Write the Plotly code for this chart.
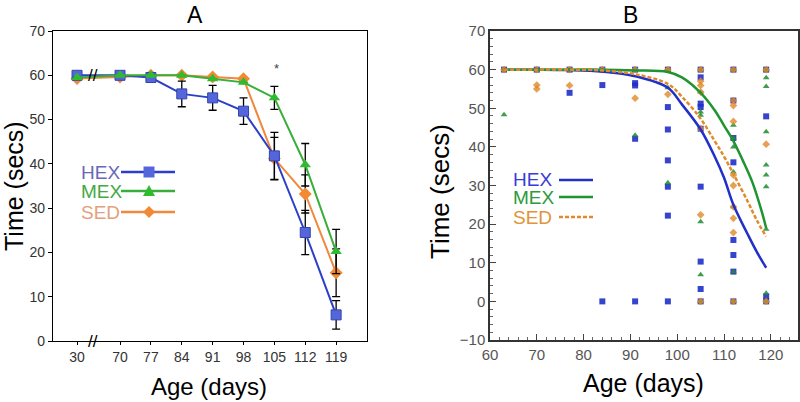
import plotly.graph_objects as go

# ---------------- Panel A data ----------------
ages_A = [30, 70, 77, 84, 91, 98, 105, 112, 119]
age_labels_A = ["30", "70", "77", "84", "91", "98", "105", "112", "119"]
hex_A = [60, 60, 59.5, 55.8, 54.9, 51.9, 41.8, 24.5, 5.9]
hex_A_err = [0, 0, 0, 2.9, 2.8, 3.0, 5.3, 5.0, 3.2]
mex_A = [59.5, 60, 60, 60, 59.2, 58.4, 54.9, 39.8, 20.2]
mex_A_err = [0, 0, 0, 0, 0, 0, 2.6, 4.8, 5.0]
sed_A = [59.3, 59.6, 60, 60, 59.6, 59.2, 41.2, 33.2, 15.4]
sed_A_err = [0, 0, 0, 0, 0, 0, 4.8, 4.3, 5.4]
yticks_A = [0, 10, 20, 30, 40, 50, 60, 70]

# ---------------- Panel B data ----------------
hex_B_days = [63, 70, 77, 77, 84, 84, 84,
              91, 91, 91, 91, 91,
              98, 98, 98, 98, 98, 98, 98,
              105, 105, 105, 105, 105, 105, 105, 105, 105,
              112, 112, 112, 112, 112, 112, 112, 112,
              119, 119, 119, 119]
hex_B_vals = [60, 60, 60, 54, 60, 56, 0,
              60, 56.5, 55.9, 42.1, 0,
              60, 50.3, 44.5, 36.5, 29.7, 22.2, 0,
              60, 58, 51.2, 50.3, 44.7, 29.7, 10.3, 3.2, 0,
              60, 52, 42.3, 36, 15.9, 12, 7.7, 0,
              60, 47.9, 1.3, 0]
mex_B_days = [63, 63, 70, 77, 84, 91, 91, 98, 98, 98,
              105, 105, 105, 105, 105, 105, 105,
              112, 112, 112, 112, 112, 112, 112, 112,
              119, 119, 119, 119, 119, 119, 119, 119, 119, 119]
mex_B_vals = [60, 48.3, 60, 60, 60, 60, 43, 60, 55.3, 30.7,
              60, 54.2, 49, 48.2, 20.6, 6.9, 0,
              60, 45.6, 42.3, 40, 33.5, 24.5, 7.7, 0,
              60, 57.9, 55.6, 43.9, 35.3, 32.7, 29.7, 18.7, 2.1, 0]
sed_B_days = [63, 70, 70, 70, 77, 77, 84, 91, 91, 98, 98,
              105, 105, 105, 105, 105, 105, 105,
              112, 112, 112, 112, 112, 112, 112, 112, 112, 112,
              119, 119, 119]
sed_B_vals = [60, 60, 56, 55, 60, 55.9, 60, 60, 52.6, 60, 53.6,
              60, 57, 55.9, 54.2, 44.7, 22.4, 0,
              60, 52, 50.7, 46.6, 32.7, 30, 24.5, 21.5, 17.8, 0,
              60, 40.7, 0]

curve_hex_days = [63, 70, 77, 84, 91, 98, 101, 105, 108, 110, 112, 115, 117, 119]
curve_hex_vals = [60, 60, 59.9, 59.5, 58.3, 55.3, 51, 44.5, 37.5, 32, 25, 17.5, 12.8, 8.7]
curve_mex_days = [63, 70, 77, 84, 91, 98, 101, 105, 108, 110, 112, 114, 116, 118, 119]
curve_mex_vals = [60, 60, 60, 60, 59.8, 59.4, 58, 54, 49.5, 45.5, 41.5, 36.5, 31, 23.5, 19]
curve_sed_days = [63, 70, 77, 84, 91, 98, 101, 105, 108, 110, 112, 115, 117, 119]
curve_sed_vals = [60, 60, 60, 59.8, 58.8, 56.3, 53, 47.3, 41.5, 37.5, 33, 26, 21, 16.8]

# ---------------- style ----------------
FONT = "Liberation Sans, Arial, sans-serif"
W, H = 800, 402
BREAK_SHIFT = 30.25          # axis break compresses 30 -> 70 gap


def posA(a):
    return a + BREAK_SHIFT if a < 70 else a


def px(x):
    return x / W


def py(y):
    return 1 - y / H


xA = [posA(a) for a in ages_A]

fig = go.Figure()


def err(arr):
    return dict(type="data", array=arr, visible=True, color="black", thickness=1.3, width=4)


fig.add_trace(go.Scatter(x=xA, y=sed_A, mode="lines+markers", error_y=err(sed_A_err),
                         line=dict(color="#f0883e", width=2),
                         marker=dict(symbol="diamond", size=10, color="#f28a35"),
                         xaxis="x", yaxis="y", showlegend=False))
fig.add_trace(go.Scatter(x=xA, y=hex_A, mode="lines+markers", error_y=err(hex_A_err),
                         line=dict(color="#2b3fc9", width=2),
                         marker=dict(symbol="square", size=10, color="#5566dd",
                                     line=dict(color="#3344aa", width=1)),
                         xaxis="x", yaxis="y", showlegend=False))
fig.add_trace(go.Scatter(x=xA, y=mex_A, mode="lines+markers", error_y=err(mex_A_err),
                         line=dict(color="#3aae3a", width=2),
                         marker=dict(symbol="triangle-up", size=10, color="#2fbb2f"),
                         xaxis="x", yaxis="y", showlegend=False))

# Panel B scatter
fig.add_trace(go.Scatter(x=hex_B_days, y=hex_B_vals, mode="markers",
                         marker=dict(symbol="square", size=6, color="#1f2fc8", opacity=0.9),
                         xaxis="x2", yaxis="y2", showlegend=False))
fig.add_trace(go.Scatter(x=mex_B_days, y=mex_B_vals, mode="markers",
                         marker=dict(symbol="triangle-up", size=6, color="#1e8c2e", opacity=0.85),
                         xaxis="x2", yaxis="y2", showlegend=False))
fig.add_trace(go.Scatter(x=sed_B_days, y=sed_B_vals, mode="markers",
                         marker=dict(symbol="diamond", size=6, color="#e08a2a", opacity=0.8),
                         xaxis="x2", yaxis="y2", showlegend=False))
# Panel B curves
fig.add_trace(go.Scatter(x=curve_hex_days, y=curve_hex_vals, mode="lines",
                         line=dict(color="#2030c8", width=2.5, shape="spline"),
                         xaxis="x2", yaxis="y2", showlegend=False))
fig.add_trace(go.Scatter(x=curve_mex_days, y=curve_mex_vals, mode="lines",
                         line=dict(color="#1f9430", width=2.5, shape="spline"),
                         xaxis="x2", yaxis="y2", showlegend=False))
fig.add_trace(go.Scatter(x=curve_sed_days, y=curve_sed_vals, mode="lines",
                         line=dict(color="#e08a2a", width=2.5, shape="spline", dash="4px,2px"),
                         xaxis="x2", yaxis="y2", showlegend=False))

shapes = []
annotations = []

# Panel A legend
legA = [("HEX", "#6868b8", "#2b3fc9", "square", "#5566dd", 172),
        ("MEX", "#44a844", "#3aae3a", "triangle", "#2fbb2f", 191),
        ("SED", "#e4a07c", "#f0883e", "diamond", "#f28a35", 212)]
for name, tcol, lcol, sym, mcol, yy in legA:
    annotations.append(dict(x=px(79), y=py(yy), xref="paper", yref="paper", text=name,
                            showarrow=False, xanchor="left", yanchor="middle",
                            font=dict(family=FONT, size=19, color=tcol)))
    shapes.append(dict(type="line", xref="paper", yref="paper", x0=px(121), x1=px(175),
                       y0=py(yy), y1=py(yy), line=dict(color=lcol, width=2.5)))
    cx, s = 149, 5.5
    if sym == "square":
        shapes.append(dict(type="rect", xref="paper", yref="paper", x0=px(cx - s), x1=px(cx + s),
                           y0=py(yy - s), y1=py(yy + s), fillcolor=mcol, line=dict(color=mcol, width=0)))
    elif sym == "triangle":
        path = f"M {px(cx)} {py(yy - 6)} L {px(cx + 6)} {py(yy + 5)} L {px(cx - 6)} {py(yy + 5)} Z"
        shapes.append(dict(type="path", xref="paper", yref="paper", path=path,
                           fillcolor=mcol, line=dict(color=mcol, width=0)))
    else:
        path = (f"M {px(cx)} {py(yy - 6)} L {px(cx + 6)} {py(yy)} L {px(cx)} {py(yy + 6)} "
                f"L {px(cx - 6)} {py(yy)} Z")
        shapes.append(dict(type="path", xref="paper", yref="paper", path=path,
                           fillcolor=mcol, line=dict(color=mcol, width=0)))

# Panel B legend
legB = [("HEX", "#3b3bd6", "#2030c8", "solid", 180),
        ("MEX", "#2a9a3a", "#1f9430", "solid", 197),
        ("SED", "#e0943c", "#e08a2a", "dash", 217)]
for name, tcol, lcol, dash, yy in legB:
    annotations.append(dict(x=px(511), y=py(yy), xref="paper", yref="paper", text=name,
                            showarrow=False, xanchor="left", yanchor="middle",
                            font=dict(family=FONT, size=19, color=tcol)))
    shapes.append(dict(type="line", xref="paper", yref="paper", x0=px(559), x1=px(593),
                       y0=py(yy), y1=py(yy),
                       line=dict(color=lcol, width=2.5, dash="4px,2px" if dash == "dash" else "solid")))


def label(x, y, text, size, angle=0):
    return dict(x=px(x), y=py(y), xref="paper", yref="paper", text=text, showarrow=False,
                xanchor="center", yanchor="middle", textangle=angle,
                font=dict(family=FONT, size=size, color="black"))


# Titles and axis titles
annotations += [
    label(195, 15, "A", 23),
    label(630, 15, "B", 23),
    label(14, 186, "Time (secs)", 25, -90),
    label(440, 192, "Time (secs)", 26, -90),
    label(209, 386, "Age (days)", 24),
    label(643, 383, "Age (days)", 25),
    # significance star
    dict(x=105.5, y=61.5, xref="x", yref="y", text="*", showarrow=False,
         xanchor="center", yanchor="middle", font=dict(family=FONT, size=13, color="#444")),
    # axis break marks
    dict(x=posA(30) + 0.36 * (70 - posA(30)), y=60, xref="x", yref="y", text="//", showarrow=False,
         xanchor="center", yanchor="middle", font=dict(family=FONT, size=17, color="black")),
    dict(x=posA(30) + 0.36 * (70 - posA(30)), y=0, xref="x", yref="y", text="//", showarrow=False,
         xanchor="center", yanchor="middle", font=dict(family=FONT, size=17, color="black")),
]

fig.update_layout(
    width=W, height=H,
    margin=dict(l=0, r=0, t=0, b=0, autoexpand=False),
    paper_bgcolor="white", plot_bgcolor="white",
    font=dict(family=FONT),
    shapes=shapes, annotations=annotations,
    xaxis=dict(domain=[px(53), px(367)], range=[54.8, 126.0],
               tickvals=xA, ticktext=age_labels_A, automargin=False,
               showgrid=False, zeroline=False, showline=True, linecolor="black", linewidth=1.3,
               mirror=True, ticks="outside", ticklen=3, tickcolor="black",
               tickfont=dict(family=FONT, size=14, color="#333")),
    yaxis=dict(domain=[py(341), py(31)], range=[0, 70], tickvals=yticks_A, automargin=False,
               showgrid=False, zeroline=False, showline=True, linecolor="black", linewidth=1.3,
               mirror=True, ticks="outside", ticklen=4, tickcolor="black",
               tickfont=dict(family=FONT, size=14, color="#333")),
    xaxis2=dict(domain=[px(490), px(798)], range=[60, 125.8], dtick=10, tick0=60,
                automargin=False,
                showgrid=False, zeroline=False, showline=True, linecolor="#333", linewidth=1.5,
                mirror=True, ticks="inside", ticklen=6, tickcolor="#444",
                minor=dict(ticks="inside", dtick=2, ticklen=3, tickcolor="#666"),
                tickfont=dict(family=FONT, size=15, color="#555"), anchor="y2"),
    yaxis2=dict(domain=[py(340), py(31)], range=[-10, 70], dtick=10, tick0=-10, automargin=False,
                showgrid=False, zeroline=False, showline=True, linecolor="#333", linewidth=1.5,
                mirror=True, ticks="inside", ticklen=6, tickcolor="#444",
                minor=dict(ticks="inside", dtick=2, ticklen=3, tickcolor="#666"),
                tickfont=dict(family=FONT, size=15, color="#555"), anchor="x2"),
)

fig.write_html("out.html",
               config={"displayModeBar": False},
               post_script="document.body.style.margin='0px';document.body.style.overflow='hidden';")
